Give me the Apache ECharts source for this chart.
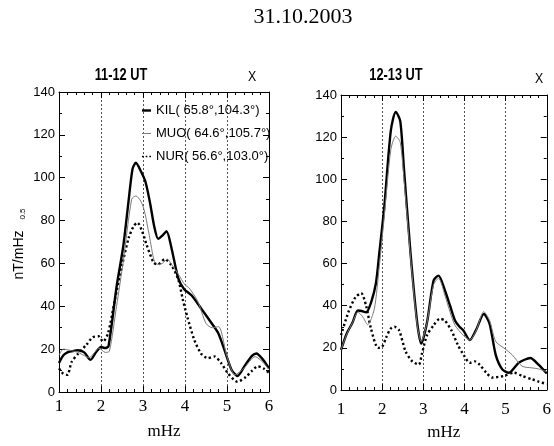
<!DOCTYPE html>
<html>
<head>
<meta charset="utf-8">
<script src="https://cdn.jsdelivr.net/npm/echarts@6/dist/echarts.min.js"></script>
<style>
html,body{margin:0;padding:0;background:#fff;}
#c{width:554px;height:446px;}
</style>
</head>
<body>
<div id="c"></div>
<script>
// ---- data ----
var xTicks = [1, 2, 3, 4, 5, 6];
var yTicks = [0, 20, 40, 60, 80, 100, 120, 140];
var stationNames = ['KIL', 'MUO', 'NUR'];
var stationLabels = ['KIL( 65.8°,104.3°)', 'MUO( 64.6°,105.7°)', 'NUR( 56.6°,103.0°)'];
var panelTitles = ['11-12 UT', '12-13 UT'];
var chartTitle = '31.10.2003';

// Left panel (11-12 UT)
var kilL_f = [1.0,1.1,1.2,1.3,1.45,1.6,1.75,1.88,2.0,2.1,2.18,2.37,2.53,2.65,2.75,2.83,2.95,3.06,3.17,3.27,3.36,3.46,3.56,3.68,3.84,3.98,4.16,4.4,4.6,4.79,4.95,5.11,5.25,5.43,5.6,5.7,5.86,6.0];
var kilL_v = [13.5,17,18.5,19,19.5,18.5,15,18.5,21,20.5,21.5,49,68,88,104,107,103,98,88,77,71.5,73,75,67,53,48,45,38.5,33,27.5,19,10.3,7.5,12.5,17,18,15,11];
var muoL_f = [1.0,1.1,1.25,1.45,1.6,1.72,1.85,1.95,2.1,2.2,2.37,2.53,2.73,2.83,2.95,3.04,3.15,3.27,3.36,3.46,3.58,3.68,3.84,4.0,4.1,4.3,4.5,4.65,4.8,5.0,5.19,5.4,5.67,5.85,6.0];
var muoL_v = [17,20,19.5,18.5,17,16,18.5,20.5,18.5,19,40,61,90,91.5,89,84,73,61,59.5,60,62,59.5,55,50,48.5,42.5,32,30,30.5,16.5,8,11,16.5,14,10.5];
var nurL_f = [1.0,1.1,1.2,1.3,1.46,1.65,1.8,1.94,2.05,2.17,2.33,2.5,2.66,2.78,2.87,2.98,3.08,3.25,3.35,3.52,3.68,3.84,3.95,4.06,4.22,4.38,4.54,4.7,4.86,5.02,5.25,5.45,5.6,5.73,5.87,6.0];
var nurL_v = [11,8.5,8,14,18,22,25.5,26,23.5,27.5,43,59,72,77.5,79,75,69,60.5,59.5,62,59,52.5,43,34.7,24.4,18,15.8,16.6,13.5,8.8,4.8,7,10,12,11,9];

// Right panel (12-13 UT)
var kilR_f = [1.0,1.14,1.28,1.41,1.5,1.61,1.73,1.85,1.93,2.05,2.21,2.33,2.44,2.53,2.69,2.85,2.95,3.09,3.25,3.37,3.53,3.65,3.77,3.88,3.97,4.13,4.28,4.47,4.61,4.76,4.92,5.08,5.32,5.6,5.8,6.0];
var kilR_v = [19,26.8,32,37.7,37.5,36.9,41.5,50.8,64.8,86.5,123,132,127.6,105,64.8,32.2,22,32,52,54.3,47,40,33,30,28.4,23.7,28.4,36.1,31.5,16.7,9.8,8.2,12.9,15.2,12,7.8];
var muoR_f = [1.0,1.14,1.28,1.41,1.52,1.65,1.81,1.93,2.05,2.21,2.33,2.44,2.53,2.69,2.85,2.95,3.09,3.25,3.37,3.53,3.65,3.77,3.97,4.13,4.28,4.47,4.61,4.76,4.96,5.16,5.4,5.64,5.8,6.0];
var muoR_v = [19,26.5,32,37,35,31,38.5,58.6,82,114,120.5,117.5,100,63,31,23,32,50,53,44.6,37,30.7,26,23.7,28,37.2,33,23,19.9,16.7,11.3,10.5,10,8.7];
var nurR_f = [1.0,1.18,1.35,1.49,1.61,1.73,1.9,2.0,2.1,2.2,2.3,2.41,2.57,2.73,2.89,2.97,3.09,3.25,3.4,3.52,3.68,3.84,4.0,4.13,4.25,4.37,4.53,4.68,4.96,5.2,5.4,5.64,5.8,6.0];
var nurR_v = [26,37,44,46,40,29,20,20.5,25,29,30,28.4,18.3,13.6,12.1,17.5,26,30.7,33.8,33,28.4,21.4,16,12.9,13.6,12,8.2,5.9,6.7,8.2,6.7,5.1,4,2.8];

function pairs(f, v) { return f.map(function (x, i) { return [x, v[i]]; }); }

var SANS = '"Liberation Sans",Arial,sans-serif';
var SERIF = '"Liberation Serif","Times New Roman",serif';

var grids = [
  { left: 59, top: 92, width: 210, height: 300 },
  { left: 341, top: 95, width: 209, height: 301 }
];

function xAx(gi, pos, labels, labelMargin, nameGap) {
  return {
    type: 'value', gridIndex: gi, position: pos,
    min: xTicks[0], max: xTicks[xTicks.length - 1], interval: 1,
    name: labels ? 'mHz' : '', nameLocation: 'middle', nameGap: nameGap,
    nameTextStyle: { fontFamily: SERIF, fontSize: 17, color: '#000' },
    axisLine: { show: true, onZero: false, lineStyle: { color: '#000', width: 1 } },
    axisTick: { show: true, inside: true, length: 6, lineStyle: { color: '#000' } },
    minorTick: { show: true, splitNumber: 5, length: 3, lineStyle: { color: '#000' } },
    axisLabel: { show: labels, margin: labelMargin, fontFamily: SERIF, fontSize: 17, color: '#000' },
    splitLine: { show: labels, showMinLine: false, showMaxLine: false,
      lineStyle: { color: '#555', width: 1, type: [2, 2] } },
    minorSplitLine: { show: false }
  };
}
function yAx(gi, pos, labels) {
  return {
    type: 'value', gridIndex: gi, position: pos,
    min: yTicks[0], max: yTicks[yTicks.length - 1], interval: 20,
    axisLine: { show: true, onZero: false, lineStyle: { color: '#000', width: 1 } },
    axisTick: { show: true, inside: true, length: 6, lineStyle: { color: '#000' } },
    minorTick: { show: true, splitNumber: 2, length: 3, lineStyle: { color: '#000' } },
    axisLabel: { show: labels, margin: 4, fontFamily: SANS, fontSize: 13, color: '#000' },
    splitLine: { show: false }
  };
}

var styles = {
  KIL: { color: '#000', width: 2.4, type: 'solid' },
  MUO: { color: '#7a7a7a', width: 1, type: 'solid' },
  NUR: { color: '#000', width: 2.4, type: [2.2, 2.6] }
};
function ser(name, gi, f, v) {
  var s = styles[name];
  return {
    name: name, type: 'line', xAxisIndex: gi * 2, yAxisIndex: gi * 2,
    data: pairs(f, v), symbol: 'none', smooth: 0.25,
    lineStyle: { color: s.color, width: s.width, type: s.type },
    itemStyle: { color: s.color },
    z: name === 'MUO' ? 3 : 2
  };
}

var legendIcons = {
  KIL: { icon: 'rect', h: 2.4 },
  MUO: { icon: 'rect', h: 1 },
  NUR: { icon: 'path://M0,0H2V2H0Z M4.5,0H6.5V2H4.5Z M9,0H11V2H9Z', h: 2.4 }
};
var legends = stationNames.map(function (n, i) {
  var ic = legendIcons[n];
  return {
    data: [n], orient: 'vertical', left: 142, top: 104 + i * 23, height: 14,
    icon: ic.icon, itemWidth: 9, itemHeight: ic.h, itemGap: 0, padding: 0,
    textStyle: { fontFamily: SANS, fontSize: 13, color: '#000', padding: [0, 0, 0, 0] },
    itemStyle: { borderWidth: 0 }, lineStyle: { width: 0 },
    formatter: function (name) { return stationLabels[stationNames.indexOf(name)]; },
    selectedMode: false
  };
});

var chart = echarts.init(document.getElementById('c'), null, { renderer: 'canvas' });
chart.setOption({
  backgroundColor: '#fff',
  animation: false,
  grid: grids,
  xAxis: [xAx(0, 'bottom', true, 6, 31), xAx(0, 'top', false, 0, 0),
          xAx(1, 'bottom', true, 11, 34), xAx(1, 'top', false, 0, 0)],
  yAxis: [yAx(0, 'left', true), yAx(0, 'right', false),
          yAx(1, 'left', true), yAx(1, 'right', false)],
  legend: legends,
  series: [
    ser('KIL', 0, kilL_f, kilL_v), ser('MUO', 0, muoL_f, muoL_v), ser('NUR', 0, nurL_f, nurL_v),
    ser('KIL', 1, kilR_f, kilR_v), ser('MUO', 1, muoR_f, muoR_v), ser('NUR', 1, nurR_f, nurR_v)
  ],
  graphic: [
    { type: 'text', x: 303, y: 17, style: { text: chartTitle, font: '22px ' + SERIF, fill: '#000', align: 'center', verticalAlign: 'middle' } },
    { type: 'text', x: 121, y: 76, scaleX: 0.8, style: { text: panelTitles[0], font: 'bold 16px ' + SANS, fill: '#000', align: 'center', verticalAlign: 'middle' } },
    { type: 'text', x: 252, y: 77, scaleX: 0.82, style: { text: 'X', font: '15px ' + SANS, fill: '#000', align: 'center', verticalAlign: 'middle' } },
    { type: 'text', x: 396, y: 76, scaleX: 0.8, style: { text: panelTitles[1], font: 'bold 16px ' + SANS, fill: '#000', align: 'center', verticalAlign: 'middle' } },
    { type: 'text', x: 539, y: 79, scaleX: 0.82, style: { text: 'X', font: '15px ' + SANS, fill: '#000', align: 'center', verticalAlign: 'middle' } },
    { type: 'text', x: 19, y: 255, rotation: Math.PI / 2, style: { text: 'nT/mHz', font: '14px ' + SANS, fill: '#000', align: 'center', verticalAlign: 'middle' } },
    { type: 'text', x: 23, y: 214, rotation: Math.PI / 2, style: { text: '0.5', font: '8px ' + SANS, fill: '#000', align: 'center', verticalAlign: 'middle' } }
  ]
});
</script>
</body>
</html>
